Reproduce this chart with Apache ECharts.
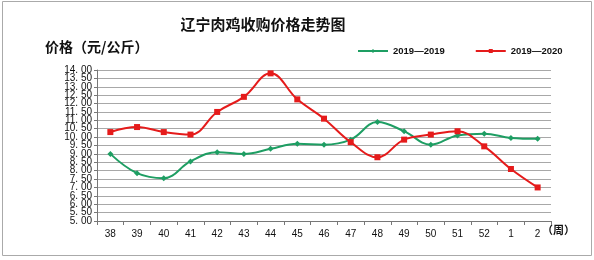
<!DOCTYPE html>
<html><head><meta charset="utf-8">
<script src="https://cdn.jsdelivr.net/npm/echarts@6/dist/echarts.min.js"></script>
<style>html,body{margin:0;padding:0;background:#fff;}#c{width:594px;height:260px;}</style>
</head><body><div id="c"></div>
<script>
var categories = ['38','39','40','41','42','43','44','45','46','47','48','49','50','51','52','1','2'];
var series2019 = [9.0, 7.85, 7.55, 8.55, 9.1, 9.0, 9.3, 9.6, 9.55, 9.85, 10.9, 10.35, 9.55, 10.1, 10.2, 9.95, 9.9];
var series2020 = [10.3, 10.6, 10.3, 10.15, 11.5, 12.4, 13.8, 12.25, 11.1, 9.7, 8.8, 9.85, 10.15, 10.35, 9.45, 8.1, 7.0];
var seriesNames = ['2019—2019', '2019—2020'];
var titleText = '辽宁肉鸡收购价格走势图';
var yName = '价格（元/公斤）';
var xName = '（周）';

var chart = echarts.init(document.getElementById('c'));
var cjk = '"Noto Sans CJK SC", sans-serif';
function fmt(v) { return v.toFixed(2).replace('.', '. '); }
function isWhole(v) { return Math.abs(v - Math.round(v)) < 1e-6; }
var labelBase = { fontFamily: 'Liberation Sans', fontSize: 10, lineHeight: 8, color: '#111', margin: 5,
  showMinLabel: true, showMaxLabel: true, hideOverlap: false };
chart.setOption({
  animation: false,
  backgroundColor: '#fff',
  title: {
    text: titleText, left: 258, top: 12, textAlign: 'center',
    textStyle: { fontFamily: cjk, fontSize: 15, fontWeight: 'bold', color: '#111' }
  },
  legend: {
    left: 352, top: 41, itemWidth: 30, itemHeight: 5, itemGap: 30,
    textStyle: { fontFamily: 'Liberation Sans', fontSize: 9.5, fontWeight: 'bold', color: '#111' },
    data: seriesNames
  },
  grid: { left: 97, right: 43, top: 70, bottom: 39 },
  xAxis: {
    type: 'category', data: categories, boundaryGap: true,
    axisLine: { lineStyle: { color: '#777', width: 1 } },
    axisTick: { show: true, length: 4, lineStyle: { color: '#777' } },
    axisLabel: { fontFamily: 'Liberation Sans', fontSize: 10, color: '#111', margin: 8 }
  },
  yAxis: [{
    type: 'value', min: 5, max: 14, interval: 0.5, position: 'left',
    axisLine: { show: true, lineStyle: { color: '#777', width: 1 } },
    axisTick: { show: true, length: 3, lineStyle: { color: '#777' } },
    axisLabel: Object.assign({}, labelBase, { formatter: function (v) { return isWhole(v) ? fmt(v) : ''; } }),
    splitLine: { lineStyle: { color: '#a8a8a8', width: 1 } }
  }, {
    type: 'value', min: 5, max: 14, interval: 0.5, position: 'left', offset: 0,
    axisLine: { show: false }, axisTick: { show: false }, splitLine: { show: false },
    axisLabel: Object.assign({}, labelBase, { formatter: function (v) { return isWhole(v) ? '' : fmt(v); } })
  }],
  graphic: [
    { type: 'rect', shape: { x: 2.5, y: 1.5, width: 589, height: 254 }, style: { fill: 'none', stroke: '#aaa', lineWidth: 1 } },
    { type: 'text', left: 45, top: 40, style: { text: yName, font: 'bold 14px ' + cjk, fill: '#111' } },
    { type: 'text', left: 542, top: 224, style: { text: xName, font: 'bold 11px ' + cjk, fill: '#111' } }
  ],
  series: [
    {
      name: seriesNames[0], type: 'line', data: series2019, smooth: 0.4, yAxisIndex: 0,
      symbol: 'diamond', symbolSize: 6,
      lineStyle: { color: '#1e9e63', width: 2 },
      itemStyle: { color: '#1e9e63' }
    },
    {
      name: seriesNames[1], type: 'line', data: series2020, smooth: 0.4, yAxisIndex: 0,
      symbol: 'rect', symbolSize: 6,
      lineStyle: { color: '#e51b1b', width: 2 },
      itemStyle: { color: '#e51b1b' }
    }
  ]
});
</script></body></html>
